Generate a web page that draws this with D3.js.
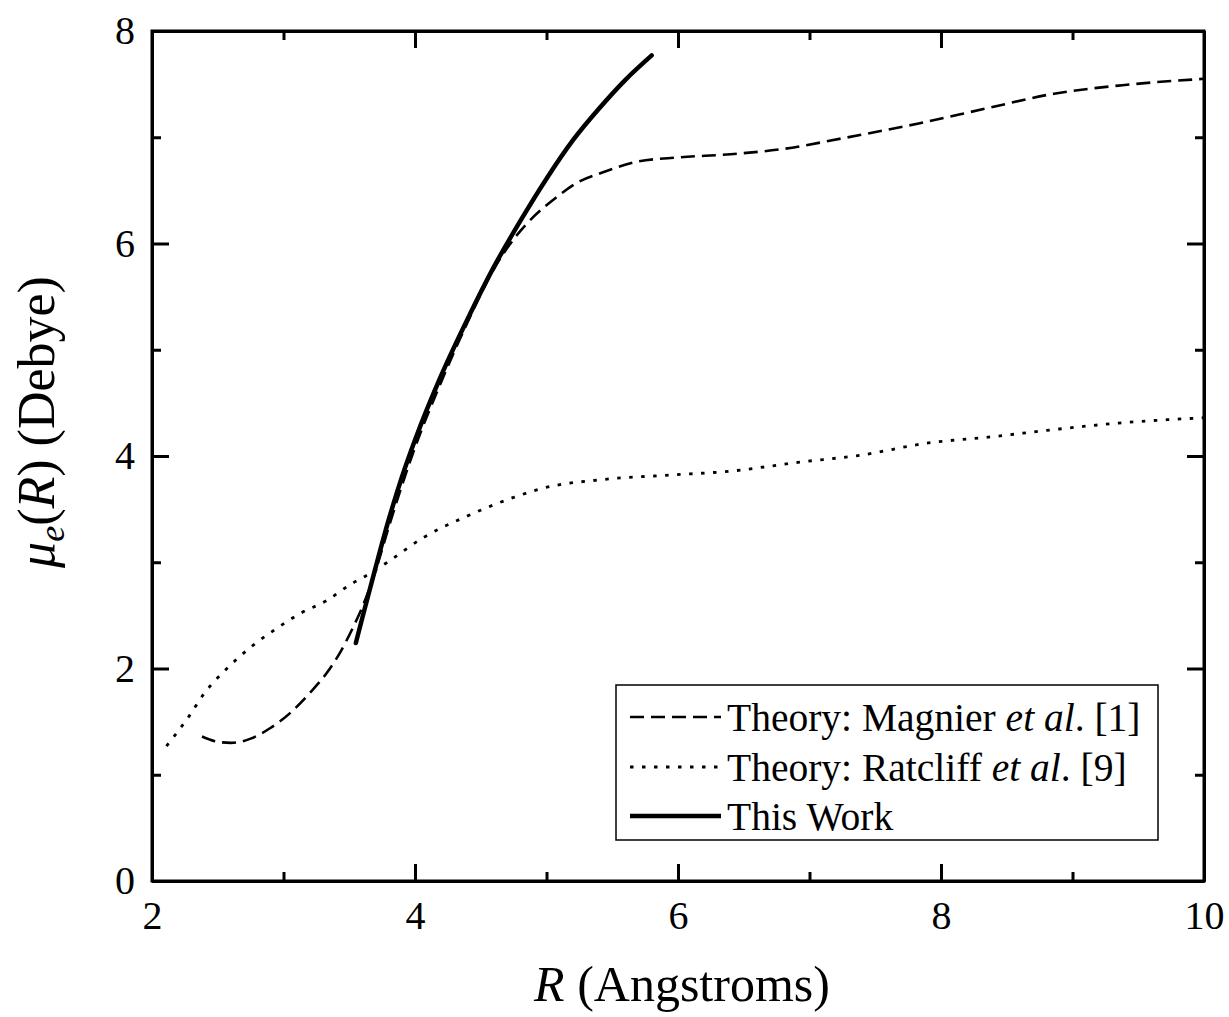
<!DOCTYPE html>
<html><head><meta charset="utf-8">
<script src="https://cdn.jsdelivr.net/npm/d3@7"></script>
<style>
body{margin:0;background:#fff;}
svg{display:block;}
text{font-family:"Liberation Serif","Times New Roman",serif;fill:#000;}
</style></head>
<body><svg id="c" width="1229" height="1017"></svg>
<script>
// ---- data ----
const magnierR = [2.38,2.5,2.6,2.75,2.9,3.05,3.2,3.33,3.43,3.53,3.6,3.7,3.8,3.9,4.0,4.2,4.4,4.6,4.75,4.9,5.05,5.23,5.43,5.69,6.0,6.4,6.8,7.25,7.83,8.34,8.86,9.38,10];
const magnierV = [1.36,1.31,1.30,1.34,1.44,1.58,1.77,1.96,2.15,2.39,2.58,2.92,3.33,3.72,4.08,4.70,5.26,5.76,6.04,6.25,6.41,6.57,6.67,6.77,6.81,6.84,6.89,6.99,7.13,7.27,7.41,7.49,7.55];
const ratcliffR = [2.11,2.27,2.40,2.57,2.75,2.94,3.13,3.33,3.52,3.61,3.79,4.06,4.37,4.75,4.95,5.44,5.93,6.42,6.91,7.40,7.89,8.38,8.87,9.35,10];
const ratcliffV = [1.27,1.53,1.77,2.00,2.20,2.37,2.52,2.64,2.80,2.86,3.00,3.23,3.42,3.61,3.69,3.78,3.82,3.86,3.94,4.01,4.12,4.18,4.25,4.31,4.36];
const thisWorkR = [3.55,3.6,3.7,3.8,3.9,4.0,4.2,4.4,4.6,4.8,5.0,5.2,5.4,5.6,5.8];
const thisWorkV = [2.24,2.48,2.95,3.40,3.80,4.15,4.76,5.29,5.78,6.21,6.61,6.97,7.27,7.54,7.77];
const xMajorTicks = [2,4,6,8,10];
const xMinorTicks = [3,5,7,9];
const yMajorTicks = [0,2,4,6,8];
const yMinorTicks = [1,3,5,7];
const legendLabels = [
  ["Theory: Magnier ", "et al", ". [1]"],
  ["Theory: Ratcliff ", "et al", ". [9]"],
  ["This Work", "", ""]
];

// ---- layout ----
const L = 152, R = 1204, T = 31, B = 881;
const svg = d3.select("#c");
const x = d3.scaleLinear().domain([2,10]).range([L,R]);
const y = d3.scaleLinear().domain([0,8]).range([B,T]);

function styleAxis(g){
  g.attr("font-family",null).attr("font-size",null);
  g.selectAll("path.domain").attr("stroke","#000").attr("stroke-width",3);
  g.selectAll(".tick line").attr("stroke","#000").attr("stroke-width",3);
  g.selectAll(".tick text").style("font-family",'"Liberation Serif","Times New Roman",serif').style("font-size","40px").attr("fill","#000");
}

// bottom
const gb = svg.append("g").attr("transform",`translate(0,${B})`)
  .call(d3.axisBottom(x).tickValues(xMajorTicks).tickSize(-17).tickSizeOuter(0).tickPadding(20).tickFormat(d3.format("d")));
styleAxis(gb);
const gbm = svg.append("g").attr("transform",`translate(0,${B})`)
  .call(d3.axisBottom(x).tickValues(xMinorTicks).tickSize(-9).tickSizeOuter(0).tickFormat(""));
styleAxis(gbm);
// top
const gt = svg.append("g").attr("transform",`translate(0,${T})`)
  .call(d3.axisTop(x).tickValues(xMajorTicks).tickSize(-17).tickSizeOuter(0).tickFormat(""));
styleAxis(gt);
const gtm = svg.append("g").attr("transform",`translate(0,${T})`)
  .call(d3.axisTop(x).tickValues(xMinorTicks).tickSize(-9).tickSizeOuter(0).tickFormat(""));
styleAxis(gtm);
// left
const gl = svg.append("g").attr("transform",`translate(${L},0)`)
  .call(d3.axisLeft(y).tickValues(yMajorTicks).tickSize(-17).tickSizeOuter(0).tickPadding(17).tickFormat(d3.format("d")));
styleAxis(gl);
const glm = svg.append("g").attr("transform",`translate(${L},0)`)
  .call(d3.axisLeft(y).tickValues(yMinorTicks).tickSize(-9).tickSizeOuter(0).tickFormat(""));
styleAxis(glm);
// right
const gr = svg.append("g").attr("transform",`translate(${R},0)`)
  .call(d3.axisRight(y).tickValues(yMajorTicks).tickSize(-17).tickSizeOuter(0).tickFormat(""));
styleAxis(gr);
const grm = svg.append("g").attr("transform",`translate(${R},0)`)
  .call(d3.axisRight(y).tickValues(yMinorTicks).tickSize(-9).tickSizeOuter(0).tickFormat(""));
styleAxis(grm);

svg.append("rect").attr("x",L).attr("y",T).attr("width",R-L).attr("height",B-T)
  .attr("fill","none").attr("stroke","#000").attr("stroke-width",3);

// ---- curves ----
const line = d3.line().x(d=>x(d[0])).y(d=>y(d[1])).curve(d3.curveMonotoneX);
const zip = (a,b)=>a.map((v,i)=>[v,b[i]]);

svg.append("path").datum(zip(ratcliffR,ratcliffV)).attr("d",line)
  .attr("fill","none").attr("stroke","#000").attr("stroke-width",2.8).attr("stroke-dasharray","3.5,8.5");
svg.append("path").datum(zip(magnierR,magnierV)).attr("d",line)
  .attr("fill","none").attr("stroke","#000").attr("stroke-width",2.6).attr("stroke-dasharray","14,7");
svg.append("path").datum(zip(thisWorkR,thisWorkV)).attr("d",line)
  .attr("fill","none").attr("stroke","#000").attr("stroke-width",4.5).attr("stroke-linecap","round");

// ---- legend ----
const lg = svg.append("g");
lg.append("rect").attr("x",616).attr("y",685).attr("width",542).attr("height",155)
  .attr("fill","#fff").attr("stroke","#000").attr("stroke-width",1.5);
const rowsY = [717,767,816];
const dashes = [["14,7",2.6],["3.5,8.5",2.8],[null,4.5]];
rowsY.forEach((ry,i)=>{
  const ln = lg.append("line").attr("x1",630).attr("x2",721).attr("y1",ry).attr("y2",ry)
    .attr("stroke","#000").attr("stroke-width",dashes[i][1]);
  if(dashes[i][0]) ln.attr("stroke-dasharray",dashes[i][0]);
  const t = lg.append("text").attr("x",727).attr("y",ry).attr("dy","0.35em").style("font-size","39.5px");
  t.append("tspan").text(legendLabels[i][0]);
  if(legendLabels[i][1]) t.append("tspan").style("font-style","italic").text(legendLabels[i][1]);
  if(legendLabels[i][2]) t.append("tspan").text(legendLabels[i][2]);
});

// ---- axis titles ----
const xt = svg.append("text").attr("x",(L+R)/2+4).attr("y",1001).attr("text-anchor","middle").style("font-size","50px");
xt.append("tspan").style("font-style","italic").text("R");
xt.append("tspan").text(" (Angstroms)");

const yt = svg.append("text").attr("transform","translate(54,422) rotate(-90)").attr("text-anchor","middle").style("font-size","52px");
yt.append("tspan").style("font-style","italic").text("μ");
yt.append("tspan").style("font-style","italic").style("font-size","36px").attr("dy","10").text("e");
yt.append("tspan").attr("dy","-10").text("(");
yt.append("tspan").style("font-style","italic").text("R");
yt.append("tspan").text(") (Debye)");
</script></body></html>
